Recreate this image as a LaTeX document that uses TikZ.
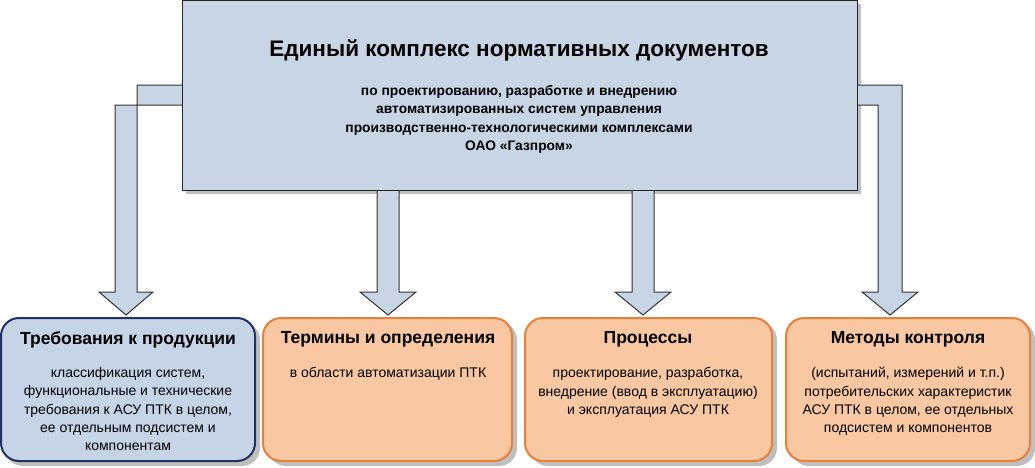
\documentclass[tikz,border=0pt]{standalone}
\usepackage{fontspec}
\setmainfont{Liberation Sans}
\definecolor{mainfill}{HTML}{C8D5E5}
\definecolor{bluefill}{HTML}{C5D4E6}
\definecolor{blueline}{HTML}{1F3264}
\definecolor{orfill}{HTML}{F9C8A2}
\definecolor{orline}{HTML}{E8803A}
\begin{document}
\begin{tikzpicture}[x=1pt,y=-1pt,
  arr/.style={draw=black!80,fill=mainfill,line width=1pt,line join=miter},
  bbox/.style={rounded corners=18pt,line width=2pt},
  ttl/.style={font=\bfseries\fontsize{17.5}{20}\selectfont,anchor=north},
  body/.style={font=\fontsize{14}{18.3}\selectfont,align=center,anchor=north}]
\useasboundingbox (0,0) rectangle (1035,467);
% shadows
\fill[black!25] (186,4) rectangle (861,194);
\foreach \a/\b in {0/255,263/512,525/772,786/1030}
  \fill[black!25,rounded corners=18pt] (\a+5,322) rectangle (\b+5,466);
% arrows
\draw[arr] (183,85) -- (137,85) -- (137,292) -- (153,292) -- (126,315) -- (99,292) -- (115,292) -- (115,105) -- (183,105);
\draw[arr] (377,188) -- (377,292) -- (360,292) -- (388,315) -- (416,292) -- (399,292) -- (399,188);
\draw[arr] (632,188) -- (632,292) -- (615,292) -- (643,315) -- (671,292) -- (654,292) -- (654,188);
\draw[arr] (856,85) -- (902,85) -- (902,292) -- (918,292) -- (890,315) -- (862,292) -- (878,292) -- (878,105) -- (856,105);
% main box
\node[draw=black!85,fill=mainfill,line width=1.2pt,minimum width=675pt,minimum height=190pt,anchor=north west,inner sep=0] (main) at (182,0) {};
\node[font=\bfseries\fontsize{22.5}{26}\selectfont] (mt) at (519,50) {Единый комплекс нормативных документов};
\node[font=\bfseries\fontsize{13.8}{18.3}\selectfont,align=center,anchor=north] (ms) at (519,82) {по проектированию, разработке и внедрению\\автоматизированных систем управления\\производственно-технологическими комплексами\\ОАО «Газпром»};
% bottom boxes
\draw[bbox,draw=blueline,fill=bluefill] (1,318) rectangle (255,461);
\draw[bbox,draw=orline,fill=orfill] (263,318) rectangle (512,461);
\draw[bbox,draw=orline,fill=orfill] (525,318) rectangle (772,461);
\draw[bbox,draw=orline,fill=orfill] (786,318) rectangle (1030,461);
\node[ttl] (t1) at (128,328) {Требования к продукции};
\node[body] (b1) at (128,364) {классификация систем,\\функциональные и технические\\требования к АСУ ПТК в целом,\\ее отдельным подсистем и\\компонентам};
\node[ttl] (t2) at (388,328) {Термины и определения};
\node[body] (b2) at (388,364) {в области автоматизации ПТК};
\node[ttl] (t3) at (648,328) {Процессы};
\node[body] (b3) at (648,364) {проектирование, разработка,\\внедрение (ввод в эксплуатацию)\\и эксплуатация АСУ ПТК};
\node[ttl] (t4) at (908,328) {Методы контроля};
\node[body] (b4) at (908,364) {(испытаний, измерений и т.п.)\\потребительских характеристик\\АСУ ПТК в целом, ее отдельных\\подсистем и компонентов};
\end{tikzpicture}
\end{document}
